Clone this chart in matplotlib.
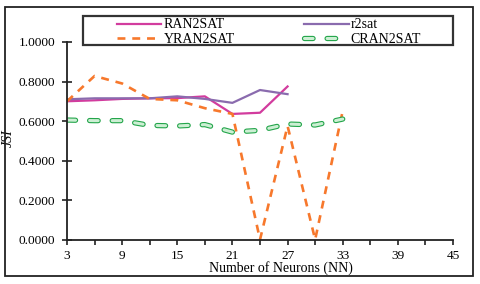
import matplotlib
matplotlib.use("Agg")
import matplotlib.pyplot as plt
import matplotlib.patheffects as pe
from matplotlib.patches import Rectangle
from matplotlib.ticker import FixedLocator, FuncFormatter

plt.rcParams['font.family'] = ['Liberation Serif', 'DejaVu Serif']

neurons = [3, 6, 9, 12, 15, 18, 21, 24, 27, 30, 33]
ran2sat = [0.700, 0.705, 0.712, 0.715, 0.716, 0.725, 0.636, 0.642, 0.775]
r2sat = [0.710, 0.715, 0.715, 0.715, 0.725, 0.712, 0.692, 0.757, 0.736]
yran2sat = [0.700, 0.828, 0.790, 0.712, 0.705, 0.665, 0.636, 0.000, 0.575, 0.000, 0.651]
cran2sat = [0.605, 0.602, 0.602, 0.578, 0.575, 0.582, 0.544, 0.553, 0.585, 0.580, 0.610]
xticks = list(range(3, 46, 3))
yticks = [0.0, 0.2, 0.4, 0.6, 0.8, 1.0]

W, H = 481, 284
fig = plt.figure(figsize=(W / 100, H / 100), dpi=100)
ax = fig.add_axes([67 / W, 1 - 239.6 / H, 386 / W, 197.6 / H])

l1, = ax.plot(neurons[:len(ran2sat)], ran2sat, color='#D23C9E', lw=1.6, label='RAN2SAT')
l2, = ax.plot(neurons[:len(r2sat)], r2sat, color='#8A6BAE', lw=1.6, label='r2sat')
l3, = ax.plot(neurons, yran2sat, color='#F7782C', lw=1.9, ls=(0, (3.0, 2.6)), label='YRAN2SAT')
l4, = ax.plot(neurons, cran2sat, color='#CDEFD4', lw=2.2, ls=(0, (2.8, 4.6)),
              solid_capstyle='round', dash_capstyle='round', label='CRAN2SAT')
l4.set_path_effects([pe.Stroke(linewidth=3.8, foreground='#23A54A', capstyle='round'), pe.Normal()])

ax.set_xlim(3, 45)
ax.set_ylim(0, 1.0)
ax.xaxis.set_major_locator(FixedLocator(xticks))
ax.xaxis.set_major_formatter(FuncFormatter(lambda v, p: f"{int(v)}" if (int(v) - 3) % 6 == 0 else ""))
ax.yaxis.set_major_locator(FixedLocator(yticks))
ax.yaxis.set_major_formatter(FuncFormatter(lambda v, p: f"{v:.4f}"))
for s in ['top', 'right']:
    ax.spines[s].set_visible(False)
for s in ['left', 'bottom']:
    ax.spines[s].set_color('#222222')
    ax.spines[s].set_linewidth(1.3)
ax.tick_params(axis='both', labelsize=9.6, colors='#222222', labelcolor='black')
ax.tick_params(axis='y', direction='inout', length=7, width=1.2, pad=5)
ax.tick_params(axis='x', direction='out', length=3.5, width=1.2, pad=4)
ax.patch.set_alpha(0)

ax.set_xlabel('Number of Neurons (NN)', fontsize=10)
ax.xaxis.set_label_coords((281 - 67) / 386, -(261 - 239.6) / 197.6)
ax.set_ylabel('JSI', fontsize=10, style='italic')
ax.yaxis.set_label_coords(-(67 - 15) / 386, (239.6 - 138) / 197.6)

leg = fig.legend([l1, l3, l2, l4], ['RAN2SAT', 'YRAN2SAT', 'r2sat', 'CRAN2SAT'],
                 loc='center', ncol=2, bbox_to_anchor=(269 / W, 1 - 32 / H),
                 fontsize=10, frameon=False, handlelength=3.2,
                 handletextpad=0.15, borderpad=0.0, labelspacing=0.08,
                 columnspacing=5.0, borderaxespad=0)

fig.patches.append(Rectangle((83 / W, 1 - 45 / H), 370 / W, 29 / H, transform=fig.transFigure,
                             fill=False, edgecolor='#333333', lw=1.6))
fig.patches.append(Rectangle((5 / W, 1 - 276 / H), 468 / W, 269 / H, transform=fig.transFigure,
                             fill=False, edgecolor='#222222', lw=1.3))
fig.savefig('out.png', dpi=100)
